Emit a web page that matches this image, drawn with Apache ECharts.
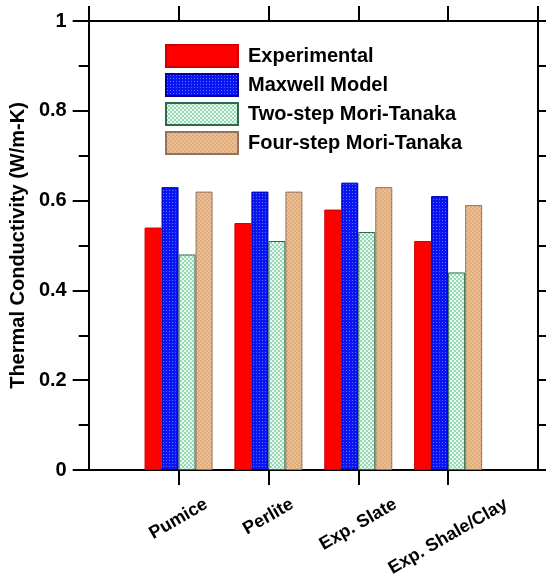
<!DOCTYPE html>
<html><head><meta charset="utf-8">
<script src="https://cdn.jsdelivr.net/npm/echarts@6/dist/echarts.min.js"></script>
<style>html,body{margin:0;padding:0;background:#fff}#c{width:546px;height:582px}</style>
</head><body><div id="c"></div>
<script>
// ---- data ----
const categories = ['Pumice', 'Perlite', 'Exp. Slate', 'Exp. Shale/Clay'];
const seriesNames = ['Experimental', 'Maxwell Model', 'Two-step Mori-Tanaka', 'Four-step Mori-Tanaka'];
const experimental = [0.54, 0.55, 0.58, 0.51];
const maxwell      = [0.63, 0.62, 0.64, 0.61];
const twoStep      = [0.48, 0.51, 0.53, 0.44];
const fourStep     = [0.62, 0.62, 0.63, 0.59];
const yTicks = [0, 0.2, 0.4, 0.6, 0.8, 1];
const yTitle = 'Thermal Conductivity (W/m-K)';

// ---- styling ----
const FONT = '"Liberation Sans", Arial, sans-serif';
function pattern(size, base, dots) {
  const c = document.createElement('canvas');
  c.width = size; c.height = size;
  const g = c.getContext('2d');
  g.fillStyle = base; g.fillRect(0, 0, size, size);
  dots.forEach(d => { g.fillStyle = d[4]; g.fillRect(d[0], d[1], d[2], d[3]); });
  return { image: c, repeat: 'repeat' };
}
const fills = [
  '#ff0000',
  pattern(3, '#0a16f2', [[1, 1, 1, 1, '#5f6cff']]),
  pattern(4, '#e9f8ef', [[0, 0, 2, 2, '#98d8b6'], [2, 2, 2, 2, '#98d8b6']]),
  pattern(4, '#ecbe90', [[0, 0, 2, 2, '#deac7e'], [2, 2, 2, 2, '#deac7e']])
];
const borders = ['#d00000', '#0000a0', '#2f6b4b', '#8f7462'];
const values = [experimental, maxwell, twoStep, fourStep];

const mctx = document.createElement('canvas').getContext('2d');
mctx.font = 'bold 18px ' + FONT;
const rich = {};
categories.forEach((c, i) => {
  const L = mctx.measureText(c).width;
  rich['c' + i] = {
    fontSize: 18, fontWeight: 'bold', fontFamily: FONT, color: '#000',
    padding: [0.433 * L, L / 4, 0, 0]
  };
});

const xPos = categories.map((c, i) => i + 1);
const axisLineStyle = { show: true, onZero: false, lineStyle: { color: '#000', width: 2 } };

const chart = echarts.init(document.getElementById('c'));
chart.setOption({
  animation: false,
  backgroundColor: '#fff',
  grid: { left: 88, right: 8, top: 21, bottom: 112, containLabel: false },
  legend: {
    orient: 'vertical', left: 165, top: 44, padding: 0,
    itemWidth: 72, itemHeight: 22, itemGap: 5,
    icon: 'rect',
    data: seriesNames,
    textStyle: { fontFamily: FONT, fontWeight: 'bold', fontSize: 20, color: '#000', padding: [0, 0, 0, 5] }
  },
  xAxis: [
    {
      type: 'value', position: 'bottom', min: 0, max: categories.length + 1, interval: 1,
      axisLine: axisLineStyle,
      axisTick: { show: true, inside: false, length: 15, customValues: xPos, lineStyle: { color: '#000', width: 2 } },
      axisLabel: {
        customValues: xPos, rotate: 30, margin: 33, align: 'center', verticalAlign: 'middle',
        formatter: v => '{c' + (v - 1) + '|' + categories[v - 1] + '}', rich: rich
      },
      splitLine: { show: false }
    },
    {
      type: 'value', position: 'top', min: 0, max: categories.length + 1, interval: 1,
      axisLine: axisLineStyle,
      axisTick: { show: true, inside: false, length: 15, lineStyle: { color: '#000', width: 2 } },
      axisLabel: { show: false },
      splitLine: { show: false }
    }
  ],
  yAxis: [
    {
      type: 'value', position: 'left', min: yTicks[0], max: yTicks[yTicks.length - 1], interval: yTicks[1] - yTicks[0],
      name: yTitle, nameLocation: 'middle', nameGap: 51,
      nameTextStyle: { fontFamily: FONT, fontWeight: 'bold', fontSize: 20, color: '#000' },
      axisLine: axisLineStyle,
      axisTick: { show: true, inside: false, length: 16, lineStyle: { color: '#000', width: 2 } },
      minorTick: { show: true, splitNumber: 2, length: 10, lineStyle: { color: '#000', width: 2 } },
      axisLabel: { margin: 22, fontFamily: FONT, fontWeight: 'bold', fontSize: 20, color: '#000' },
      splitLine: { show: false }
    },
    {
      type: 'value', position: 'right', min: yTicks[0], max: yTicks[yTicks.length - 1], interval: yTicks[1] - yTicks[0],
      axisLine: axisLineStyle,
      axisTick: { show: true, inside: false, length: 16, lineStyle: { color: '#000', width: 2 } },
      minorTick: { show: true, splitNumber: 2, length: 10, lineStyle: { color: '#000', width: 2 } },
      axisLabel: { show: false },
      splitLine: { show: false }
    }
  ],
  series: seriesNames.map((n, s) => ({
    name: n, type: 'bar', xAxisIndex: 0, yAxisIndex: 0,
    barWidth: 17, barGap: '0%',
    itemStyle: { color: fills[s], borderColor: borders[s], borderWidth: 1 },
    data: xPos.map((x, i) => [x, values[s][i]])
  }))
});
</script>
</body></html>
